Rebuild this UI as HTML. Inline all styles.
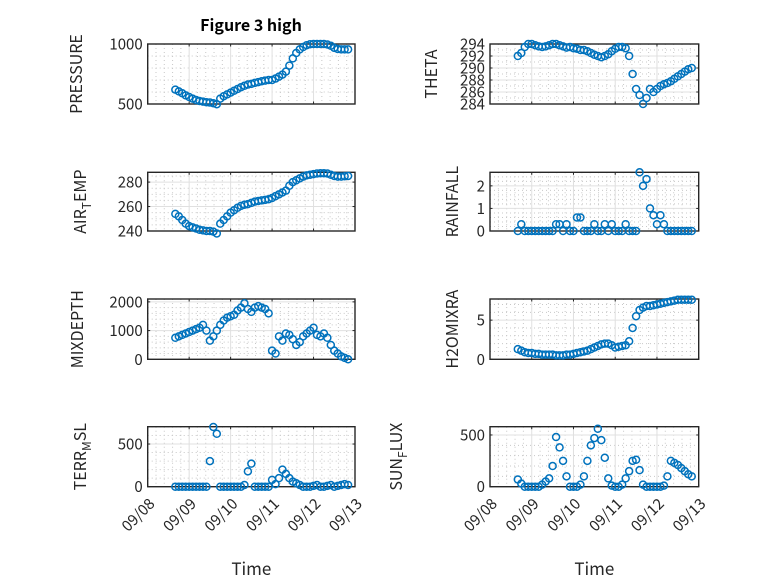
<!DOCTYPE html>
<html><head><meta charset="utf-8"><style>
body{margin:0;background:#fff;}
svg{display:block;font-family:"Noto Sans CJK SC","Liberation Sans","DejaVu Sans",sans-serif;}
</style></head><body>
<svg id="fig" width="778" height="583" viewBox="0 0 778 583" xmlns="http://www.w3.org/2000/svg">
<rect width="778" height="583" fill="#fff"/>
<text x="251" y="31" text-anchor="middle" font-size="16" font-weight="bold" fill="#000">Figure 3 high</text>
</svg>
<script>
const hours = [16,18,20,22,24,26,28,30,32,34,36,38,40,42,44,46,48,50,52,54,56,58,60,62,64,66,68,70,72,74,76,78,80,82,84,86,88,90,92,94,96,98,100,102,104,106,108,110,112,114,116];
const xTickLabels = ["09/08","09/09","09/10","09/11","09/12","09/13"];
const pressure = [620,605,590,572,558,545,533,525,520,515,512,506,498,545,565,580,595,610,625,640,652,662,668,676,682,690,695,700,700,712,728,745,770,820,880,925,955,975,990,998,1000,1000,1000,1000,996,985,968,958,955,955,955];
const theta = [292,292.5,293.5,294,294,293.8,293.6,293.5,293.6,293.8,294,294,293.8,293.6,293.4,293.5,293.3,293.2,293,293,292.8,292.5,292.2,292,291.8,292,292.3,292.8,293.2,293.5,293.5,293.3,292,289,286.5,285.5,284,285,286.5,286,286.5,287,287.3,287.5,287.8,288.2,288.6,289,289.4,289.8,290];
const airTemp = [254,252,249,246,244,243,242,241,240.5,240,240,239.5,238,246,249,252,255,257,259,260.5,261.5,262,263,264,264.5,265,265.5,266,267,268.5,270,271.5,273,277,280,281.5,283,284.5,285.5,286,286.5,287,287.2,287.2,287,286,285,284.5,284.5,284.8,285];
const rainfall = [0,0.3,0,0,0,0,0,0,0,0,0,0.3,0.3,0,0.3,0,0,0.6,0.6,0,0,0,0.3,0,0,0.3,0,0.3,0,0,0,0.3,0,0,0,2.6,2.0,2.3,1.0,0.7,0.3,0.7,0.3,0,0,0,0,0,0,0,0];
const mixDepth = [750,800,850,900,950,1000,1050,1100,1200,1000,650,800,1000,1200,1350,1450,1500,1550,1700,1800,1950,1750,1650,1800,1850,1800,1750,1600,300,200,800,650,900,850,700,500,600,800,900,1000,1100,850,800,900,750,500,300,200,100,50,0];
const h2oMix = [1.3,1.1,0.9,0.8,0.8,0.7,0.7,0.6,0.6,0.6,0.6,0.5,0.5,0.5,0.6,0.6,0.7,0.8,0.9,1.0,1.1,1.3,1.5,1.7,1.9,2.0,2.0,1.8,1.5,1.6,1.7,1.8,2.3,4.0,5.5,6.3,6.6,6.8,6.8,6.9,7.0,7.1,7.2,7.3,7.4,7.5,7.6,7.6,7.6,7.6,7.6];
const terrMsl = [0,0,0,0,0,0,0,0,0,0,300,700,620,0,0,0,0,0,0,0,20,180,270,0,0,0,0,0,80,30,100,200,150,100,60,40,20,0,0,0,10,20,0,0,10,20,0,10,20,30,20];
const sunFlux = [70,30,0,0,0,0,0,20,50,80,200,480,380,250,100,0,0,0,20,100,250,400,470,560,450,280,80,10,0,0,20,80,150,250,260,160,20,0,0,0,0,0,10,100,250,230,210,180,150,120,100];

const NS="http://www.w3.org/2000/svg";
const svg=document.getElementById('fig');
function mk(tag,attrs,parent){const e=document.createElementNS(NS,tag);for(const k in attrs)e.setAttribute(k,attrs[k]);(parent||svg).appendChild(e);return e;}

const cols={L:[147.7,355],R:[490,698.7]};
const rows=[[44,104],[172.3,231],[299,359.3],[426.7,486.7]];
const panels=[
 {id:'pressure',col:'L',row:0,data:pressure,ylim:[500,1000],ticks:[500,1000],minor:100,label:[['PRESSURE','']],lx:82},
 {id:'theta',col:'R',row:0,data:theta,ylim:[284,294],ticks:[284,286,288,290,292,294],minor:1,label:[['THETA','']],lx:437},
 {id:'air-temp',col:'L',row:1,data:airTemp,ylim:[240,288],ticks:[240,260,280],minor:5,label:[['AIR',''],['T','sub'],['EMP','']],lx:86},
 {id:'rainfall',col:'R',row:1,data:rainfall,ylim:[0,2.6],ticks:[0,1,2],minor:0.2,label:[['RAINFALL','']],lx:458},
 {id:'mixdepth',col:'L',row:2,data:mixDepth,ylim:[0,2100],ticks:[0,1000,2000],minor:200,label:[['MIXDEPTH','']],lx:83},
 {id:'h2omixra',col:'R',row:2,data:h2oMix,ylim:[0,7.7],ticks:[0,5],minor:1,label:[['H2OMIXRA','']],lx:458},
 {id:'terr-msl',col:'L',row:3,data:terrMsl,ylim:[0,703],ticks:[0,500],minor:100,label:[['TERR',''],['M','sub'],['SL','']],lx:86},
 {id:'sun-flux',col:'R',row:3,data:sunFlux,ylim:[0,580],ticks:[0,500],minor:100,label:[['SUN',''],['F','sub'],['LUX','']],lx:402}
];

panels.forEach(p=>{
 const [x0,x1]=cols[p.col],[y0,y1]=rows[p.row];
 const xs=d=>x0+(d/5)*(x1-x0);
 const ys=v=>y1-(v-p.ylim[0])/(p.ylim[1]-p.ylim[0])*(y1-y0);
 const g=mk('g',{});
 
 
 for(let d=0.2;d<5;d+=0.2){if(Math.abs(d-Math.round(d))<1e-6)continue;
  const l=mk('line',{x1:xs(d),x2:xs(d),y1:y0,y2:y1,stroke:'#c8c8c8','stroke-width':1,'stroke-dasharray':'1 3'},g);
  }
 for(let v=p.ylim[0]+p.minor;v<p.ylim[1]-1e-6;v+=p.minor){
  if(p.ticks.some(t=>Math.abs(t-v)<1e-6))continue;
  const l=mk('line',{x1:x0,x2:x1,y1:ys(v),y2:ys(v),stroke:'#c8c8c8','stroke-width':1,'stroke-dasharray':'1 3'},g);
  }
 for(let d=1;d<5;d++){const l=mk('line',{x1:xs(d),x2:xs(d),y1:y0,y2:y1,stroke:'#e0e0e0','stroke-width':1},g);
  }
 p.ticks.forEach(t=>{const l=mk('line',{x1:x0,x2:x1,y1:ys(t),y2:ys(t),stroke:'#e0e0e0','stroke-width':1},g);
  });
 const b=mk('rect',{x:x0,y:y0,width:x1-x0,height:y1-y0,fill:'none',stroke:'#262626','stroke-width':1.4},g);
 
 for(let d=0;d<=5;d++){
  mk('line',{x1:xs(d),x2:xs(d),y1:y1,y2:y1-2.5,stroke:'#262626'},g);
  mk('line',{x1:xs(d),x2:xs(d),y1:y0,y2:y0+2.5,stroke:'#262626'},g);
 }
 p.ticks.forEach(t=>{
  mk('line',{x1:x0,x2:x0+2.5,y1:ys(t),y2:ys(t),stroke:'#262626'},g);
  mk('line',{x1:x1,x2:x1-2.5,y1:ys(t),y2:ys(t),stroke:'#262626'},g);
  const tx=mk('text',{x:x0-5,y:ys(t)+5.5,'text-anchor':'end','font-size':15,fill:'#262626'},g);
  tx.textContent=t;
  
 });
 const yl=mk('text',{transform:`translate(${p.lx},${(y0+y1)/2}) rotate(-90)`,'text-anchor':'middle','font-size':16,fill:'#262626'},g);
 
 let prevSub=false;
 p.label.forEach(([s,k])=>{const ts=mk('tspan',k==='sub'?{'font-size':12,dy:5}:{dy:prevSub?-5:0},yl);ts.textContent=s;prevSub=(k==='sub');});
 p.data.forEach((v,i)=>{
  const c=mk('circle',{cx:xs(hours[i]/24),cy:ys(v),r:3.5,fill:'none',stroke:'#0072BD','stroke-width':1.5},g);
  
  
 });
 if(p.row===3){
  xTickLabels.forEach((s,d)=>{
   const t=mk('text',{transform:`translate(${xs(d)+8},${y1+18}) rotate(-45)`,'text-anchor':'end','font-size':15,fill:'#262626'},g);
   t.textContent=s;
   
  });
  const xt=mk('text',{x:(x0+x1)/2,y:575,'text-anchor':'middle','font-size':17,fill:'#262626'},g);
  xt.textContent='Time';
  
 }
});
</script>
</body></html>
